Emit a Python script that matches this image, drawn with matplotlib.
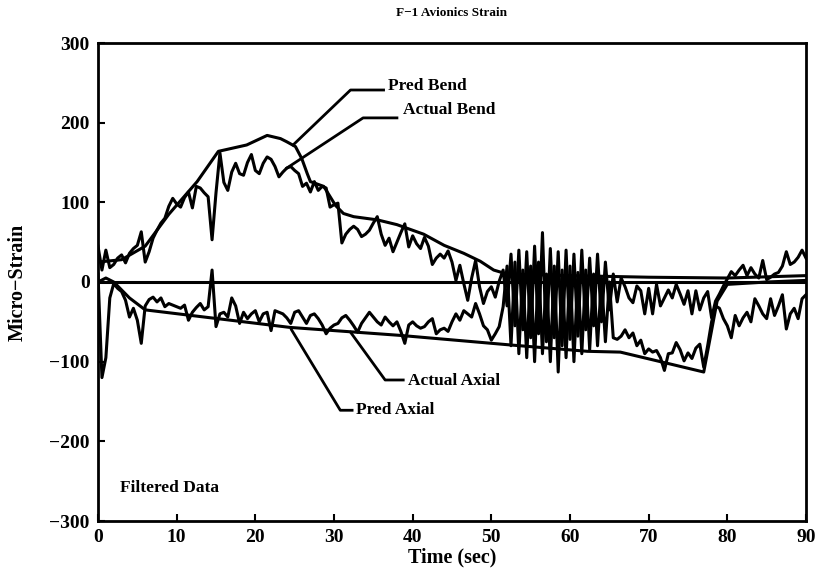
import numpy as np
import matplotlib.pyplot as plt

plt.rcParams['font.family'] = ['Liberation Serif', 'DejaVu Serif']
plt.rcParams['font.weight'] = 'bold'

# measured bend / axial strain, one sample every 0.5 s (t = 0 ... 90)
actual_bend = [
    45, 15, 40, 18, 22, 30, 34, 24, 36, 42, 46, 63, 25, 38, 55, 65, 74, 80, 95, 105,
    98, 94, 106, 113, 93, 120, 118, 112, 107, 53, 112, 162, 125, 115, 138, 149, 136, 134, 150, 160,
    140, 136, 149, 157, 154, 145, 132, 138, 143, 145, 140, 136, 120, 124, 113, 126, 115, 120, 118, 94,
    97, 99, 49, 60, 66, 70, 66, 57, 60, 65, 74, 82, 60, 46, 55, 38, 50, 62, 73, 44,
    58, 48, 42, 56, 45, 22, 30, 35, 30, 39, 25, 2, 21, -2, -23, 5, 27, -6, -27, -12,
    -6, -19, 1, 15, -30, 35, -55, 40, -60, 38, -70, 45, -65, 62, -75, 42, -70, 38, -80, 40,
    -72, 35, -68, 40, -60, 30, -55, 35, -50, 25, -35, 10, -25, 5, -6, -20, -26, -5, -11, -40,
    -8, -40, -3, -30, -20, -10, -20, -3, -15, -28, -11, -40, -11, -35, -20, -12, -45, -24, -15, -5,
    4, 13, 8, 15, 21, 8, 18, 10, 5, 27, 3, 6, 10, 12, 20, 38, 22, 25, 31, 40, 30,
]
actual_axial = [
    10, -120, -95, -20, -2, -8, -12, -23, -44, -33, -48, -77, -30, -22, -19, -25, -20, -31, -27, -29,
    -31, -33, -29, -48, -38, -32, -27, -35, -31, 15, -56, -40, -38, -44, -20, -30, -52, -38, -46, -40,
    -36, -50, -40, -38, -61, -36, -38, -40, -45, -52, -38, -36, -44, -52, -42, -40, -46, -54, -65, -58,
    -54, -52, -45, -42, -48, -55, -63, -52, -45, -38, -44, -50, -54, -44, -50, -55, -50, -62, -77, -54,
    -50, -55, -58, -56, -50, -46, -65, -60, -58, -62, -50, -40, -48, -36, -40, -44, -27, -40, -55, -60,
    -73, -65, -56, -31, 20, -80, 25, -90, 15, -95, 20, -100, 25, -90, 10, -100, 20, -113, 15, -95,
    20, -100, 12, -90, 15, -85, 10, -80, 5, -75, 0, -70, -72, -68, -60, -70, -64, -80, -73, -90,
    -84, -88, -86, -95, -111, -90, -89, -76, -85, -99, -89, -96, -83, -78, -107, -80, -50, -30, -33, -46,
    -55, -70, -42, -55, -45, -38, -50, -21, -30, -40, -46, -21, -42, -30, -16, -59, -40, -33, -46, -21, -16,
]
t_meas = np.arange(len(actual_bend)) * 0.5

# predicted curves (smooth), read at break points
pred_bend_t = [0, 3, 6, 9, 12.6, 15.3, 18.9, 21.5, 23.2, 24, 25.1, 25.9, 26.6, 27, 28.7,
               30.2, 31.2, 32.5, 35.5, 38, 41.4, 44, 46.5, 48.6, 50.3, 52, 60, 70, 80, 90]
pred_bend = [25, 28, 45, 85, 126, 164, 172, 184, 180, 176, 170, 155, 136, 126, 120,
             96, 86, 82, 78, 72, 60, 46, 36, 26, 15, 10, 8, 6, 5, 8]
pred_axial_t = [0, 1, 2, 4, 6, 24.4, 38.4, 52.4, 62.2, 66.4, 71.5, 77, 78.7, 80, 85, 90]
pred_axial = [0, 5, 0, -20, -35, -57, -67, -79, -87, -88, -100, -113, -24, -3, 0, 2]

fig = plt.figure(figsize=(8.15, 5.73), dpi=100)
ax = fig.add_axes([98 / 815, 52 / 573, 708 / 815, 478 / 573])

lw = 2.2
ax.axhline(0, color='black', lw=lw)
ax.plot(t_meas, actual_bend, color='black', lw=lw)
ax.plot(t_meas, actual_axial, color='black', lw=lw)
ax.plot(pred_bend_t, pred_bend, color='black', lw=lw)
ax.plot(pred_axial_t, pred_axial, color='black', lw=lw)

# labels with leader lines
lead = dict(color='black', lw=2)
fs = 12.5
ax.plot([36.3, 32.1, 24.8], [241, 241, 172], **lead)
ax.text(36.9, 246, 'Pred Bend', fontsize=fs, va='center', ha='left')
ax.plot([38.0, 33.7, 24.0], [206, 206, 143], **lead)
ax.text(38.8, 216, 'Actual Bend', fontsize=fs, va='center', ha='left')
ax.plot([38.8, 36.5, 32.1], [-123, -123, -63], **lead)
ax.text(39.4, -124, 'Actual Axial', fontsize=fs, va='center', ha='left')
ax.plot([32.3, 30.8, 24.6], [-161, -161, -60], **lead)
ax.text(32.8, -161, 'Pred Axial', fontsize=fs, va='center', ha='left')
ax.text(2.8, -259, 'Filtered Data', fontsize=12.5, va='center', ha='left')

ax.set_xlim(0, 90)
ax.set_ylim(-300, 300)
ax.set_xticks(np.arange(0, 91, 10))
ax.set_yticks(np.arange(-300, 301, 100))
ax.tick_params(direction='in', length=5, width=1.5, labelsize=14, pad=6)
for s in ax.spines.values():
    s.set_linewidth(2)

fig.text(452 / 815, 1 - 13 / 573, 'F\u22121 Avionics Strain', fontsize=9.5,
         ha='center', va='center')
fig.text(452 / 815, 1 - 557 / 573, 'Time (sec)', fontsize=14.5, ha='center', va='center')
fig.text(18 / 815, 1 - 282 / 573, 'Micro\u2212Strain', fontsize=14.5, rotation=90,
         ha='center', va='center')

fig.savefig('out.png', dpi=100)
